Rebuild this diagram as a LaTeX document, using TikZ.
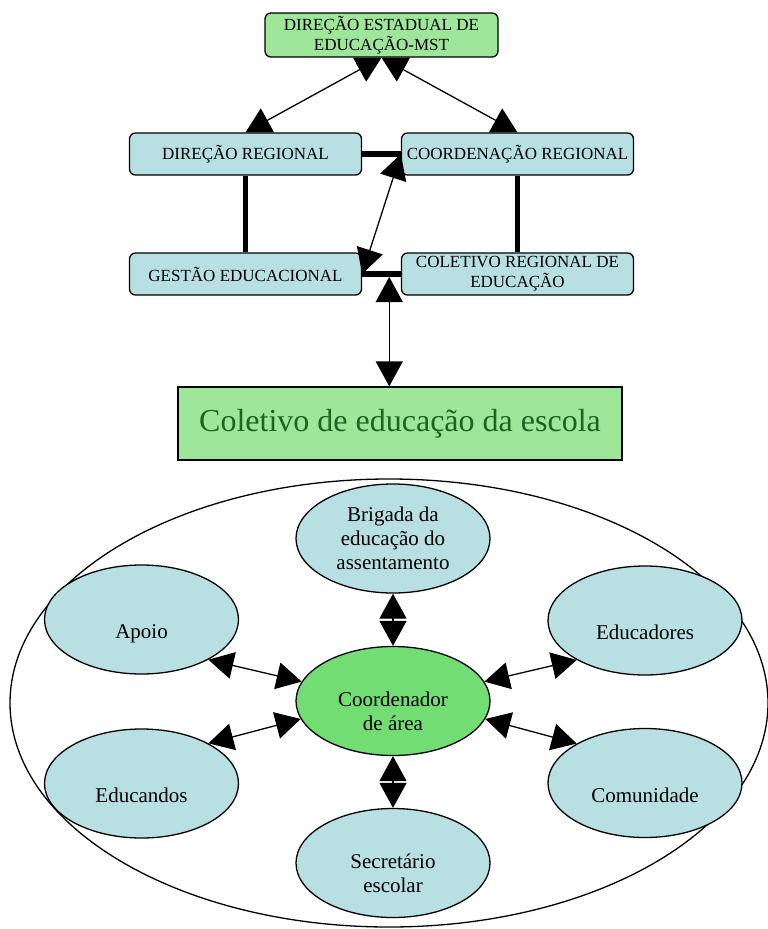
\documentclass[tikz,border=0pt]{standalone}
\usepackage{fontspec}
\setmainfont{Liberation Serif}
\usetikzlibrary{arrows.meta,shapes.geometric}

\definecolor{boxblue}{HTML}{B8E0E3}
\definecolor{boxgreen}{HTML}{9EE69A}
\definecolor{coordgreen}{HTML}{72DD72}
\definecolor{textgreen}{HTML}{1E641E}

\newcommand{\lowline}[1]{\rule[-5pt]{0pt}{48pt}#1}
\newcommand{\lowfirst}{\rule{0pt}{36pt}}

\begin{document}
\begin{tikzpicture}[x=1pt, y=-1pt,
    every node/.style={font=\fontsize{17}{20}\selectfont},
    regbox/.style={draw, rounded corners=6pt, fill=boxblue, line width=1.3pt,
        minimum height=42pt, minimum width=232pt, inner sep=1pt, align=center},
    bubble/.style={draw, ellipse, fill=boxblue, line width=1.3pt,
        minimum width=194pt, minimum height=109pt, inner sep=0pt, align=center,
        font=\fontsize{21}{24}\selectfont},
    biarrow/.style={{Triangle[length=25pt,width=27pt]}-{Triangle[length=25pt,width=27pt]}, line width=1.3pt},
    thickline/.style={line width=5.5pt}]
    \useasboundingbox (0,0) rectangle (768,929);

        \node[regbox, fill=boxgreen, minimum width=233pt, minimum height=44pt] (top) at (381.5,35)
              {DIREÇÃO ESTADUAL DE\\EDUCAÇÃO-MST};
        \node[regbox] (dr) at (245.5,154) {DIREÇÃO REGIONAL};
        \node[regbox] (cr) at (517.5,154) {COORDENAÇÃO REGIONAL};
        \node[regbox] (ge) at (245.5,274) {GESTÃO EDUCACIONAL};
        \node[regbox] (cre) at (517.5,274) {COLETIVO REGIONAL DE\\EDUCAÇÃO};
        \node[draw, fill=boxgreen, line width=1.3pt, minimum width=444pt, minimum height=73pt,
              text=textgreen, font=\fontsize{32}{36}\selectfont] (esc) at (400,423.5)
              {Coletivo de educação da escola\hspace{10pt}};

        \draw[line width=1.3pt] (389,703) ellipse [x radius=379pt, y radius=224pt];
        \node[bubble] (brig) at (393,538.5) {Brigada da\\educação do\\assentamento};
        \node[bubble] (apoio) at (141.5,619.5) {\lowline{Apoio}};
        \node[bubble] (edr) at (645,620.5) {\lowline{Educadores}};
        \node[bubble, fill=coordgreen] (coord) at (393,701) {\lowfirst Coordenador\\de área};
        \node[bubble] (edn) at (141.5,783.5) {\lowline{Educandos}};
        \node[bubble] (com) at (645,783) {\lowline{Comunidade}};
        \node[bubble] (sec) at (393,863) {\lowfirst Secretário\\escolar};

        \draw[thickline] (dr.east) -- (cr.west);
        \draw[thickline] (dr.south) -- (ge.north);
        \draw[thickline] (cr.south) -- (cre.north);
        \draw[thickline] (ge.east) -- coordinate[pos=0.7] (jn) (cre.west);
        \draw[biarrow] (top.south) -- (dr.north);
        \draw[biarrow] (top.south) -- (cr.north);
        \draw[biarrow] (ge.east) -- (cr.west);
        \draw[biarrow, shorten <=3pt] (jn) -- (jn |- esc.north);

        \draw[biarrow] (brig.south) -- (coord.north);
        \draw[biarrow] (coord.south) -- (sec.north);
        \draw[biarrow] (apoio.-31) -- (coord.168);
        \draw[biarrow] (edn.31.6) -- (coord.-169);
        \draw[biarrow] (edr.-150) -- (coord.12);
        \draw[biarrow] (com.150) -- (coord.-11.5);
    \end{tikzpicture}
\end{document}
